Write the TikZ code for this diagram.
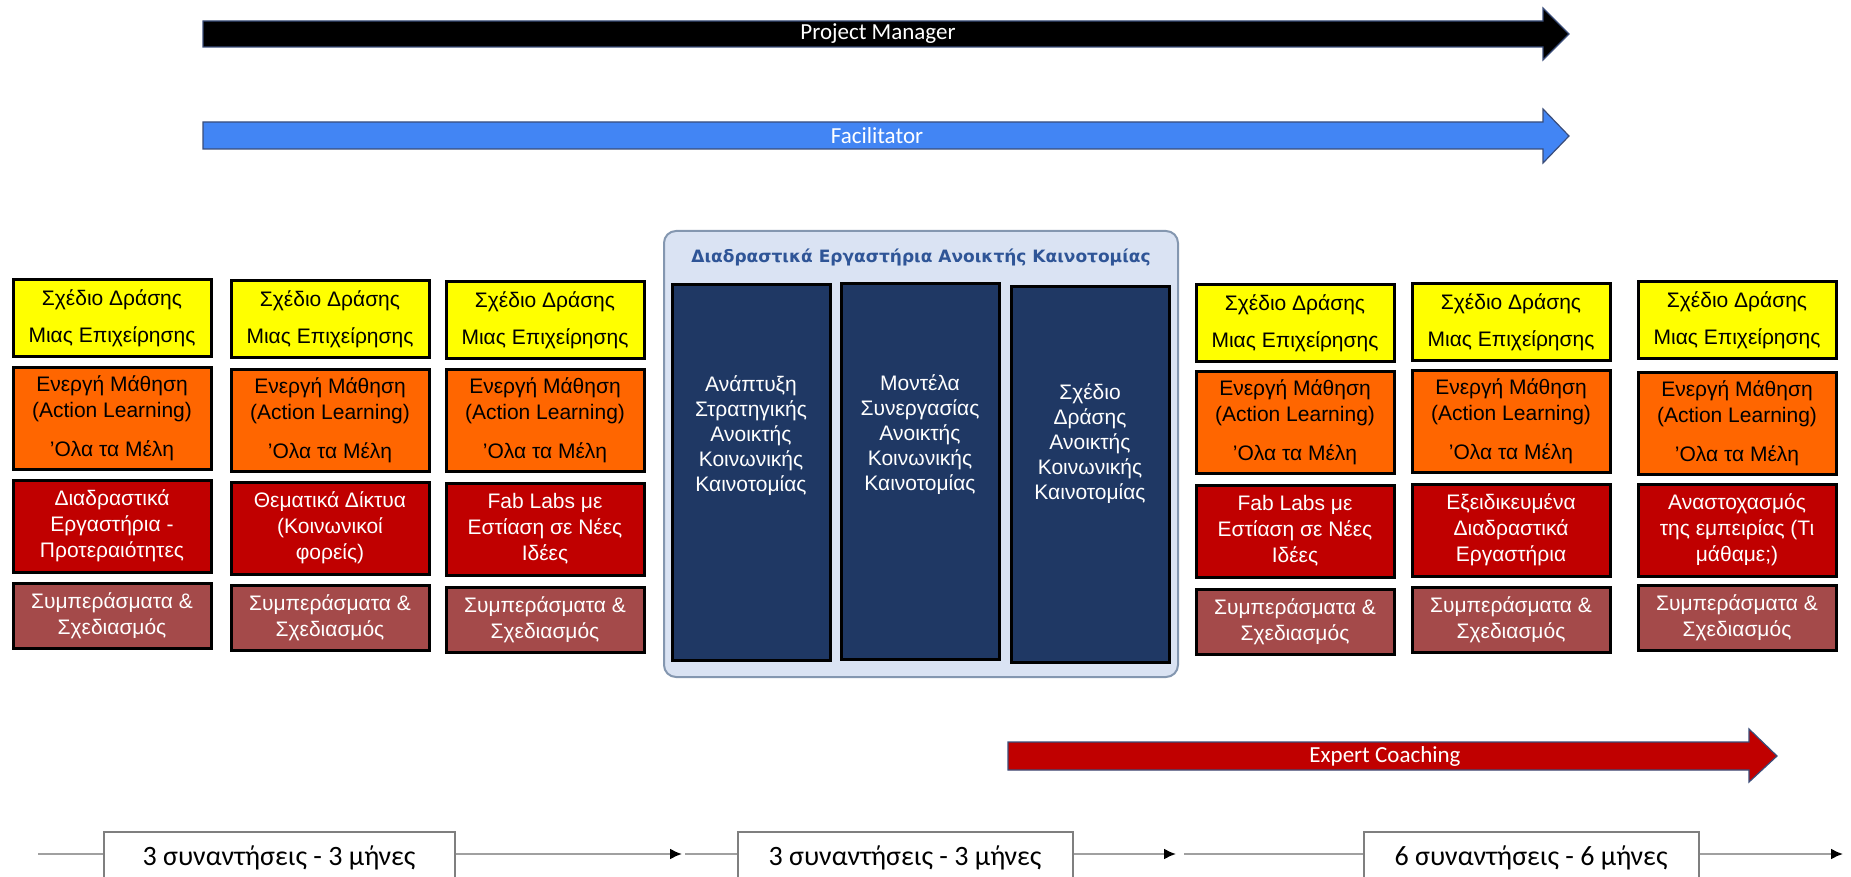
\documentclass[tikz,border=0pt]{standalone}
\usepackage{fontspec}
\setmainfont{Liberation Sans}
\newfontfamily\calibrifont{Carlito}
\newfontfamily\verdanafont{DejaVu Sans}
\usetikzlibrary{arrows.meta}

\definecolor{planyellow}{HTML}{FFFF00}
\definecolor{learnorange}{HTML}{FF6600}
\definecolor{topicred}{HTML}{C00000}
\definecolor{resultbrown}{HTML}{A44A4A}
\definecolor{labnavy}{HTML}{1F3864}
\definecolor{groupfill}{HTML}{DAE3F3}
\definecolor{groupedge}{HTML}{8497B0}
\definecolor{titleblue}{HTML}{2F5597}
\definecolor{facblue}{HTML}{4285F4}
\definecolor{bandedge}{HTML}{3A4D7A}
\definecolor{periodgray}{HTML}{7F7F7F}
\definecolor{linegray}{HTML}{A0A0A0}

\begin{document}
\begin{tikzpicture}[x=1pt, y=-1pt,
    box/.style={draw=black, line width=3pt, minimum width=198pt, align=center,
        inner sep=0pt, font=\fontsize{21}{26}\selectfont},
    plan/.style={box, fill=planyellow, minimum height=77pt},
    learn/.style={box, fill=learnorange, minimum height=102pt},
    topic/.style={box, fill=topicred, text=white, minimum height=92pt},
    result/.style={box, fill=resultbrown, text=white, minimum height=65pt},
    lab/.style={draw=black, line width=3pt, fill=labnavy,
        minimum width=158pt, minimum height=376pt},
    labtext/.style={text=white, align=center, font=\fontsize{21}{25}\selectfont},
    band/.style={draw=bandedge, line width=1.2pt},
    bandtext/.style={text=white, font=\calibrifont\fontsize{23}{27}\selectfont},
    period/.style={draw=periodgray, line width=2pt, fill=white, minimum height=52pt,
        font=\calibrifont\fontsize{28}{32}\selectfont},
    tline/.style={draw=linegray, line width=2pt},
    tlarrow/.style={-{Latex[length=12pt, width=11pt, color=black]}}
]
    \useasboundingbox (0,0) rectangle (1851,877);
    \clip (0,0) rectangle (1851,877);

    \filldraw[band, fill=black] (203,21) -- (1543,21) -- (1543,8) -- (1569,34)
        -- (1543,60) -- (1543,47) -- (203,47) -- cycle;
    \node[bandtext] (pm) at (878,34) {Project Manager};
    \filldraw[band, fill=facblue] (203,122) -- (1543,122) -- (1543,109) -- (1569,136)
        -- (1543,163) -- (1543,149) -- (203,149) -- cycle;
    \node[bandtext] (fac) at (877,136) {Facilitator};

    \node[plan] (p1) at (112,318) {Σχέδιο Δράσης\\[11pt]Μιας Επιχείρησης};
    \node[learn] (l1) at (112,418) {Ενεργή Μάθηση\\(Action Learning)\\[13pt]'Ολα τα Μέλη};
    \node[topic] (r1) at (112,526) {Διαδραστικά\\Εργαστήρια -\\Προτεραιότητες};
    \node[result] (s1) at (112,616) {Συμπεράσματα \&\\Σχεδιασμός};

    \node[plan] (p2) at (330,319) {Σχέδιο Δράσης\\[11pt]Μιας Επιχείρησης};
    \node[learn] (l2) at (330,420) {Ενεργή Μάθηση\\(Action Learning)\\[13pt]'Ολα τα Μέλη};
    \node[topic] (r2) at (330,528) {Θεματικά Δίκτυα\\(Κοινωνικοί\\φορείς)};
    \node[result] (s2) at (330,618) {Συμπεράσματα \&\\Σχεδιασμός};

    \node[plan] (p3) at (545,320) {Σχέδιο Δράσης\\[11pt]Μιας Επιχείρησης};
    \node[learn] (l3) at (545,420) {Ενεργή Μάθηση\\(Action Learning)\\[13pt]'Ολα τα Μέλη};
    \node[topic] (r3) at (545,529) {Fab Labs με\\Εστίαση σε Νέες\\Ιδέες};
    \node[result] (s3) at (545,620) {Συμπεράσματα \&\\Σχεδιασμός};

    \node[draw=groupedge, line width=2pt, fill=groupfill, rounded corners=12pt,
        minimum width=514pt, minimum height=446pt] (grp) at (921,454) {};
    \node[text=titleblue, font=\verdanafont\bfseries\fontsize{17}{20}\selectfont]
        (grptitle) at (921,257) {Διαδραστικά Εργαστήρια Ανοικτής Καινοτομίας};
    \node[lab] (d1) at (751,472) {};
    \node[lab] (d2) at (920,471) {};
    \node[lab] (d3) at (1090,474) {};
    \node[labtext] (t1) at (751,436) {Ανάπτυξη\\Στρατηγικής\\Ανοικτής\\Κοινωνικής\\Καινοτομίας};
    \node[labtext] (t2) at (920,435) {Μοντέλα\\Συνεργασίας\\Ανοικτής\\Κοινωνικής\\Καινοτομίας};
    \node[labtext] (t3) at (1090,444) {Σχέδιο\\Δράσης\\Ανοικτής\\Κοινωνικής\\Καινοτομίας};

    \node[plan] (p5) at (1295,323) {Σχέδιο Δράσης\\[11pt]Μιας Επιχείρησης};
    \node[learn] (l5) at (1295,422) {Ενεργή Μάθηση\\(Action Learning)\\[13pt]'Ολα τα Μέλη};
    \node[topic] (r5) at (1295,531) {Fab Labs με\\Εστίαση σε Νέες\\Ιδέες};
    \node[result] (s5) at (1295,622) {Συμπεράσματα \&\\Σχεδιασμός};

    \node[plan] (p6) at (1511,322) {Σχέδιο Δράσης\\[11pt]Μιας Επιχείρησης};
    \node[learn] (l6) at (1511,421) {Ενεργή Μάθηση\\(Action Learning)\\[13pt]'Ολα τα Μέλη};
    \node[topic] (r6) at (1511,530) {Εξειδικευμένα\\Διαδραστικά\\Εργαστήρια};
    \node[result] (s6) at (1511,620) {Συμπεράσματα \&\\Σχεδιασμός};

    \node[plan] (p7) at (1737,320) {Σχέδιο Δράσης\\[11pt]Μιας Επιχείρησης};
    \node[learn] (l7) at (1737,423) {Ενεργή Μάθηση\\(Action Learning)\\[13pt]'Ολα τα Μέλη};
    \node[topic] (r7) at (1737,530) {Αναστοχασμός\\της εμπειρίας (Τι\\μάθαμε;)};
    \node[result] (s7) at (1737,618) {Συμπεράσματα \&\\Σχεδιασμός};

    \filldraw[band, fill=topicred] (1008,742) -- (1749,742) -- (1749,729) -- (1777,756)
        -- (1749,782) -- (1749,770) -- (1008,770) -- cycle;
    \node[bandtext] (coach) at (1385,756) {Expert Coaching};

    \node[period, minimum width=351pt] (m1) at (279,858) {3 συναντήσεις - 3 μήνες};
    \node[period, minimum width=335pt] (m2) at (905,858) {3 συναντήσεις - 3 μήνες};
    \node[period, minimum width=335pt] (m3) at (1531,858) {6 συναντήσεις - 6 μήνες};
    \coordinate (a0) at (38,854);
    \coordinate (a1) at (682,854);
    \coordinate (b1) at (685,854);
    \coordinate (a2) at (1176,854);
    \coordinate (b2) at (1184,854);
    \coordinate (a3) at (1843,854);
    \draw[tline] (a0) -- (a0 -| m1.west);
    \draw[tline, tlarrow] (a0 -| m1.east) -- (a1);
    \draw[tline] (b1) -- (b1 -| m2.west);
    \draw[tline, tlarrow] (b1 -| m2.east) -- (a2);
    \draw[tline] (b2) -- (b2 -| m3.west);
    \draw[tline, tlarrow] (b2 -| m3.east) -- (a3);
\end{tikzpicture}
\end{document}
